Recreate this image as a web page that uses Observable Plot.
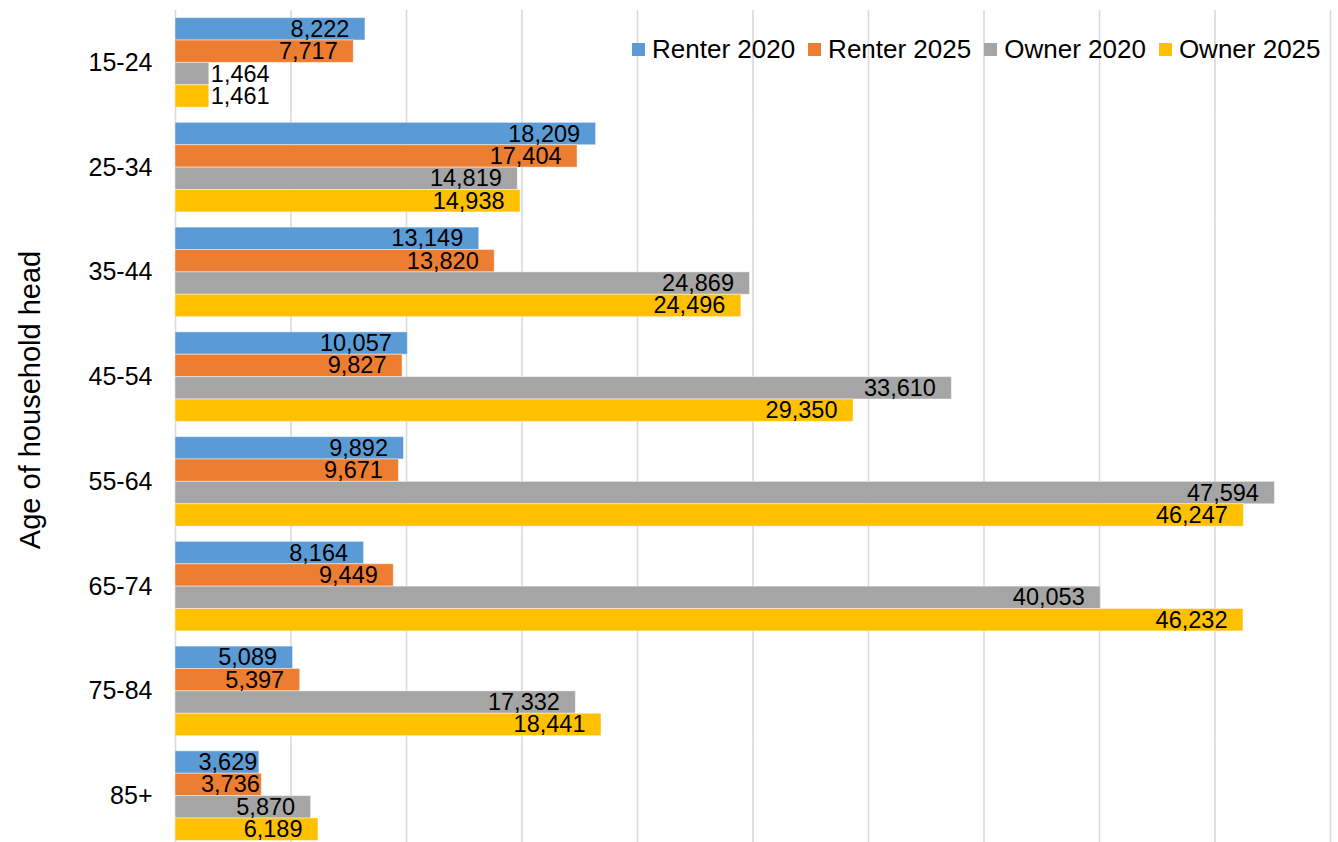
<!DOCTYPE html>
<html>
<head>
<meta charset="utf-8">
<script src="https://cdn.jsdelivr.net/npm/d3@7"></script>
<script src="https://cdn.jsdelivr.net/npm/@observablehq/plot@0.6"></script>
<style>
  html, body { margin: 0; padding: 0; background: #fff; overflow: hidden; }
  body { font-family: "Liberation Sans", Arial, sans-serif; }
  #wrap { position: relative; width: 1338px; height: 842px; }
  #ytitle {
    position: absolute; left: 30px; top: 400px;
    transform: translate(-50%, -50%) rotate(-90deg);
    font-size: 29px; white-space: nowrap; color: #000;
  }
  #legend {
    position: absolute; left: 632px; top: 34px;
    display: flex; align-items: center; font-size: 26px; line-height: 30px; color: #000;
  }
  #legend .item { display: flex; align-items: center; margin-right: 13px; }
  #legend .sw { width: 13px; height: 13px; margin-right: 7px; }
</style>
</head>
<body>
<div id="wrap">
  <div id="chart"></div>
  <div id="ytitle">Age of household head</div>
  <div id="legend"></div>
</div>
<script>
const ages = ["15-24", "25-34", "35-44", "45-54", "55-64", "65-74", "75-84", "85+"];
const seriesNames = ["Renter 2020", "Renter 2025", "Owner 2020", "Owner 2025"];
const seriesColors = ["#5B9BD5", "#ED7D31", "#A5A5A5", "#FFC000"];
const renter2020 = [8222, 18209, 13149, 10057, 9892, 8164, 5089, 3629];
const renter2025 = [7717, 17404, 13820, 9827, 9671, 9449, 5397, 3736];
const owner2020 = [1464, 14819, 24869, 33610, 47594, 40053, 17332, 5870];
const owner2025 = [1461, 14938, 24496, 29350, 46247, 46232, 18441, 6189];
const gridTicks = [0, 5000, 10000, 15000, 20000, 25000, 30000, 35000, 40000, 45000, 50000];

const seriesValues = [renter2020, renter2025, owner2020, owner2025];
const data = [];
ages.forEach((age, i) => {
  seriesNames.forEach((s, j) => {
    data.push({age, series: s, value: seriesValues[j][i]});
  });
});

const fmt = d3.format(",");
const big = data.filter(d => d.value >= 4500);
const mid = data.filter(d => d.value >= 2500 && d.value < 4500);
const small = data.filter(d => d.value < 2500);
const font = "'Liberation Sans', Arial, sans-serif";

const chart = Plot.plot({
  width: 1338,
  height: 848,
  marginLeft: 175,
  marginRight: 8,
  marginTop: 10,
  marginBottom: 0,
  style: {fontFamily: font, background: "white", overflow: "visible"},
  x: {domain: [0, 50000], axis: null},
  y: {domain: seriesNames, axis: null, paddingInner: 0, paddingOuter: 0.34, round: false},
  fy: {domain: ages, padding: 0, label: null, round: false},
  color: {domain: seriesNames, range: seriesColors},
  marks: [
    Plot.ruleX(gridTicks, {stroke: "#d9d9d9", strokeWidth: 1.6}),
    Plot.barX(data, {x: "value", y: "series", fy: "age", fill: "series",
      stroke: "white", strokeOpacity: 0.45, strokeWidth: 1}),
    Plot.text(big, {x: "value", y: "series", fy: "age", text: d => fmt(d.value),
      textAnchor: "end", dx: -16, fontSize: 23.5, fill: "#000"}),
    Plot.text(mid, {x: "value", y: "series", fy: "age", text: d => fmt(d.value),
      textAnchor: "end", dx: -2, fontSize: 23.5, fill: "#000"}),
    Plot.text(small, {x: "value", y: "series", fy: "age", text: d => fmt(d.value),
      textAnchor: "start", dx: 1.5, fontSize: 23.5, fill: "#000"}),
    Plot.axisFy({anchor: "left", tickSize: 0, tickPadding: 23, fontSize: 25, label: null, fill: "#000"})
  ]
});
document.getElementById("chart").appendChild(chart);

const legend = document.getElementById("legend");
seriesNames.forEach((s, i) => {
  const item = document.createElement("div");
  item.className = "item";
  const sw = document.createElement("div");
  sw.className = "sw";
  sw.style.background = seriesColors[i];
  const label = document.createElement("span");
  label.textContent = s;
  item.appendChild(sw);
  item.appendChild(label);
  legend.appendChild(item);
});
</script>
</body>
</html>
